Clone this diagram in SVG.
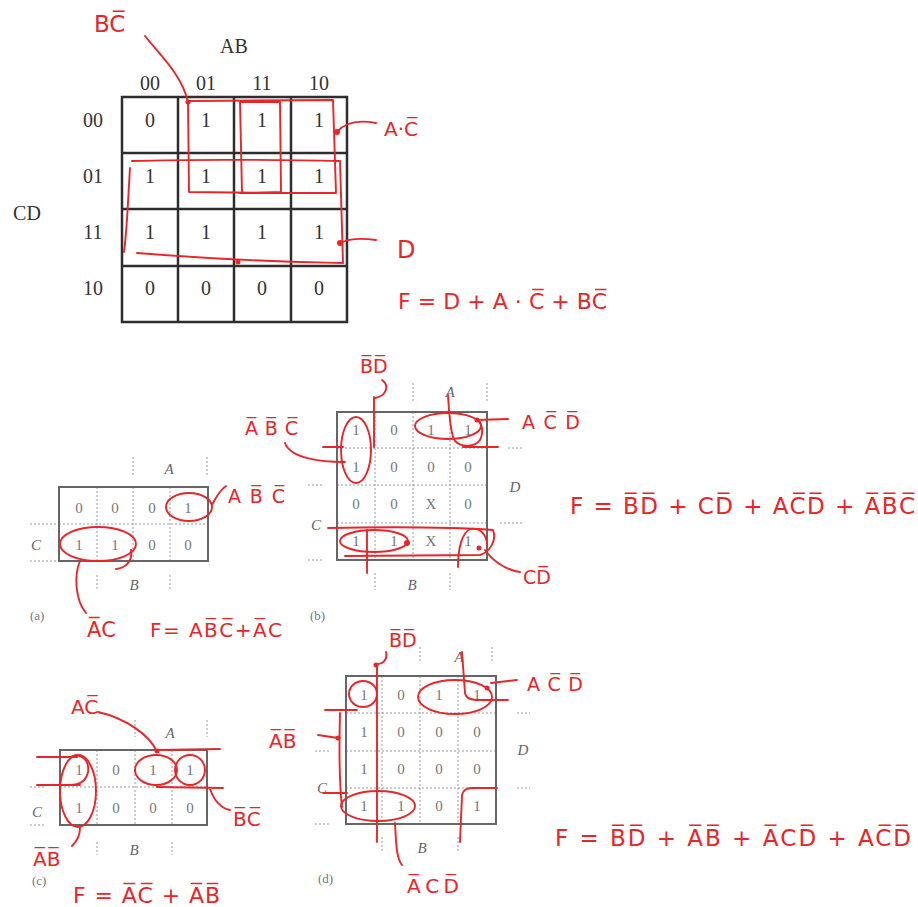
<svg xmlns="http://www.w3.org/2000/svg" width="918" height="907" viewBox="0 0 918 907">
<style>
.bg{fill:#ffffff}
.g1{fill:none;stroke:#2e2e2e;stroke-width:2.5}
.t1{font-family:"Liberation Serif",serif;font-size:20px;fill:#333;text-anchor:middle}
.box{fill:none;stroke:#666;stroke-width:2}
.dl{fill:none;stroke:#9a9a9a;stroke-width:1;stroke-dasharray:2,2}
.t2{font-family:"Liberation Serif",serif;font-size:15px;fill:#777;text-anchor:middle}
.lb{font-family:"Liberation Serif",serif;font-size:15px;fill:#666;font-style:italic;text-anchor:middle}
.cap{font-family:"Liberation Serif",serif;font-size:13px;fill:#777}
.r{fill:none;stroke:#e8262a;stroke-width:1.9;stroke-linecap:round;stroke-linejoin:round}
.rt{font-family:"DejaVu Sans",sans-serif;fill:#e8262a}
.dot{fill:#e8262a}
</style>
<rect class="bg" x="0" y="0" width="918" height="907"/>

<g id="map-main">
<path class="g1" d="M122,97H347V322H122Z M178,97V322 M234,97V322 M291,97V322 M122,153H347 M122,209H347 M122,266H347"/>
<text class="t1" x="234" y="53">AB</text>
<text class="t1" x="27" y="220">CD</text>
<text class="t1" x="150" y="90">00</text><text class="t1" x="206" y="90">01</text><text class="t1" x="262" y="90">11</text><text class="t1" x="319" y="90">10</text>
<text class="t1" x="93" y="127">00</text><text class="t1" x="93" y="183">01</text><text class="t1" x="93" y="239">11</text><text class="t1" x="93" y="295">10</text>
<text class="t1" x="150" y="127">0</text><text class="t1" x="206" y="127">1</text><text class="t1" x="262" y="127">1</text><text class="t1" x="319" y="127">1</text>
<text class="t1" x="150" y="183">1</text><text class="t1" x="206" y="183">1</text><text class="t1" x="262" y="183">1</text><text class="t1" x="319" y="183">1</text>
<text class="t1" x="150" y="239">1</text><text class="t1" x="206" y="239">1</text><text class="t1" x="262" y="239">1</text><text class="t1" x="319" y="239">1</text>
<text class="t1" x="150" y="295">0</text><text class="t1" x="206" y="295">0</text><text class="t1" x="262" y="295">0</text><text class="t1" x="319" y="295">0</text>
</g>

<g id="map-a">
<path class="dl" d="M97,487V561 M133,487V561 M170,487V561 M59,524H208 M30,524H59 M30,561H59 M133,457V477 M207,457V477 M97,575V590 M170,575V590"/>
<rect class="box" x="59" y="487" width="149" height="74"/>
<text class="lb" x="169" y="474">A</text><text class="lb" x="134" y="590">B</text><text class="lb" x="36" y="550">C</text>
<text class="cap" x="30" y="620">(a)</text>
<text class="t2" x="79" y="513">0</text><text class="t2" x="115" y="513">0</text><text class="t2" x="152" y="513">0</text><text class="t2" x="188" y="513">1</text>
<text class="t2" x="79" y="550">1</text><text class="t2" x="115" y="550">1</text><text class="t2" x="152" y="550">0</text><text class="t2" x="188" y="550">0</text>
</g>

<g id="map-b">
<path class="dl" d="M375,412V560 M413,412V560 M450,412V560 M337,448H487 M337,485H487 M337,523H487 M413,383V402 M487,383V402 M375,573V590 M450,573V590 M508,448H523 M500,523H523 M308,485H323 M308,560H323"/>
<rect class="box" x="337" y="412" width="150" height="148"/>
<text class="lb" x="450" y="397">A</text><text class="lb" x="412" y="590">B</text><text class="lb" x="515" y="492">D</text><text class="lb" x="316" y="530">C</text>
<text class="cap" x="310" y="620">(b)</text>
<text class="t2" x="356" y="435">1</text><text class="t2" x="394" y="435">0</text><text class="t2" x="431" y="435">1</text><text class="t2" x="468" y="435">1</text>
<text class="t2" x="356" y="472">1</text><text class="t2" x="394" y="472">0</text><text class="t2" x="431" y="472">0</text><text class="t2" x="468" y="472">0</text>
<text class="t2" x="356" y="509">0</text><text class="t2" x="394" y="509">0</text><text class="t2" x="431" y="509">X</text><text class="t2" x="468" y="509">0</text>
<text class="t2" x="356" y="546">1</text><text class="t2" x="394" y="546">1</text><text class="t2" x="431" y="546">X</text><text class="t2" x="468" y="546">1</text>
</g>

<g id="map-c">
<path class="dl" d="M97,750V825 M135,750V825 M172,750V825 M60,787H207 M30,787H45 M30,825H45 M135,720V737 M207,720V737 M97,842V855 M172,842V855"/>
<rect class="box" x="60" y="750" width="147" height="75"/>
<text class="lb" x="170" y="738">A</text><text class="lb" x="134" y="855">B</text><text class="lb" x="37" y="817">C</text>
<text class="cap" x="32" y="885">(c)</text>
<text class="t2" x="79" y="775">1</text><text class="t2" x="116" y="775">0</text><text class="t2" x="153" y="775">1</text><text class="t2" x="190" y="775">1</text>
<text class="t2" x="79" y="813">1</text><text class="t2" x="116" y="813">0</text><text class="t2" x="153" y="813">0</text><text class="t2" x="190" y="813">0</text>
</g>

<g id="map-d">
<path class="dl" d="M382,676V824 M420,676V824 M458,676V824 M346,713H496 M346,751H496 M346,788H496 M420,647V663 M492,647V663 M382,837V853 M458,837V853 M517,713H530 M517,788H530 M315,751H330 M315,824H330"/>
<rect class="box" x="346" y="676" width="150" height="148"/>
<text class="lb" x="459" y="662">A</text><text class="lb" x="422" y="853">B</text><text class="lb" x="523" y="755">D</text><text class="lb" x="322" y="793">C</text>
<text class="cap" x="318" y="883">(d)</text>
<text class="t2" x="364" y="700">1</text><text class="t2" x="401" y="700">0</text><text class="t2" x="439" y="700">1</text><text class="t2" x="477" y="700">1</text>
<text class="t2" x="364" y="737">1</text><text class="t2" x="401" y="737">0</text><text class="t2" x="439" y="737">0</text><text class="t2" x="477" y="737">0</text>
<text class="t2" x="364" y="774">1</text><text class="t2" x="401" y="774">0</text><text class="t2" x="439" y="774">0</text><text class="t2" x="477" y="774">0</text>
<text class="t2" x="364" y="811">1</text><text class="t2" x="401" y="811">1</text><text class="t2" x="439" y="811">0</text><text class="t2" x="477" y="811">1</text>
</g>

<g id="connectors">
<path class="r" d="M145,36 C160,55 182,75 188,102"/>
<path class="r" d="M188,101 L189,192 L281,193 M240,102 L280,102 L281,192 L242,193 Z"/>
<path class="r" d="M188,101 L333,100 L336,193 L240,193"/>
<path class="r" d="M132,161 C200,159 300,160 340,161 L343,263 C300,262 250,262 137,253 M130,168 C128,200 127,230 124,252"/>
<path class="r" d="M337,132 C345,122 360,120 376,123"/>
<path class="r" d="M340,243 C350,238 362,238 376,240"/>
<circle class="dot" cx="188" cy="102" r="2.5"/><circle class="dot" cx="337" cy="132" r="3"/><circle class="dot" cx="340" cy="243" r="3"/><circle class="dot" cx="238" cy="262" r="2.5"/>
<ellipse class="r" cx="189" cy="507" rx="23" ry="14"/>
<path class="r" d="M212,505 C216,497 220,490 226,486"/>
<ellipse class="r" cx="98" cy="544" rx="38" ry="17"/>
<path class="r" d="M131,550 C133,562 125,568 116,569"/>
<path class="r" d="M80,561 C74,575 75,600 86,613"/>
<path class="r" d="M382,380 C390,386 386,396 375,398 M374,397 L374,447"/>
<path class="r" d="M285,443 C290,458 320,462 345,462"/>
<ellipse class="r" cx="356" cy="450" rx="15" ry="33"/>
<path class="r" d="M323,447 L343,447"/>
<ellipse class="r" cx="448" cy="426" rx="33" ry="13"/>
<path class="r" d="M448,395 C449,410 450,435 455,441 C462,448 475,447 480,440 C484,432 482,422 477,420 L508,419"/>
<path class="r" d="M463,447 L498,447"/>
<ellipse class="r" cx="374" cy="541" rx="34" ry="11"/>
<path class="r" d="M328,528 C380,527 450,527 493,530 C497,540 490,552 480,555 L345,556"/>
<path class="r" d="M458,567 C458,548 462,533 470,529 C480,527 487,535 487,545 M485,550 C492,560 505,570 520,572"/>
<path class="r" d="M367,530 L367,573"/>
<circle class="dot" cx="477" cy="420" r="2.5"/><circle class="dot" cx="407" cy="543" r="3"/><circle class="dot" cx="479" cy="548" r="2.5"/>
<path class="r" d="M98,712 C125,718 150,735 157,752 M157,750 L220,749"/>
<path class="r" d="M37,757 L77,757 M37,785 L80,785"/>
<path class="r" d="M70,757 C80,752 90,760 88,772 C86,782 78,785 70,785"/>
<ellipse class="r" cx="78" cy="791" rx="18" ry="36"/>
<path class="r" d="M80,828 C80,836 76,842 72,846"/>
<ellipse class="r" cx="156" cy="770" rx="21" ry="15"/>
<circle class="r" cx="190" cy="770" r="15"/>
<path class="r" d="M157,787 L223,788 M210,789 C214,800 220,808 230,810"/>
<circle class="dot" cx="157" cy="751" r="2.5"/>
<path class="r" d="M386,652 C388,660 382,665 376,664 M377,665 L377,842"/>
<ellipse class="r" cx="363" cy="694" rx="14" ry="13"/>
<path class="r" d="M325,710 L357,710"/>
<path class="r" d="M318,735 L338,738 M340,713 C339,750 339,780 342,807 M323,793 L347,793"/>
<ellipse class="r" cx="378" cy="806" rx="37" ry="15"/>
<path class="r" d="M395,823 C396,840 396,858 402,865"/>
<ellipse class="r" cx="455" cy="697" rx="37" ry="17"/>
<path class="r" d="M491,683 L517,680"/>
<path class="r" d="M462,652 L465,693 C466,699 472,700 480,700 L508,700"/>
<path class="r" d="M460,842 L462,795 C463,790 466,788 472,788 L497,788"/>
<circle class="dot" cx="376" cy="665" r="2.5"/><circle class="dot" cx="338" cy="738" r="2.5"/><circle class="dot" cx="487" cy="688" r="2.5"/>
</g>

<g id="labels">
<text class="rt" x="94" y="32" font-size="23">BC̅</text>
<text class="rt" x="384" y="136" font-size="20">A·C̅</text>
<text class="rt" x="397" y="258" font-size="24">D</text>
<text class="rt" x="398" y="309" font-size="22" textLength="209" lengthAdjust="spacing">F = D + A · C̅ + BC̅</text>
<text class="rt" x="228" y="503" font-size="19" textLength="57" lengthAdjust="spacing">AB̅C̅</text>
<text class="rt" x="87" y="637" font-size="21">A̅C</text>
<text class="rt" x="150" y="637" font-size="20" textLength="132" lengthAdjust="spacing">F= AB̅C̅+A̅C</text>
<text class="rt" x="360" y="373" font-size="19">B̅D̅</text>
<text class="rt" x="245" y="435" font-size="19" textLength="53" lengthAdjust="spacing">A̅B̅C̅</text>
<text class="rt" x="522" y="429" font-size="19" textLength="58" lengthAdjust="spacing">AC̅D̅</text>
<text class="rt" x="523" y="584" font-size="19">CD̅</text>
<text class="rt" x="570" y="514" font-size="23" textLength="345" lengthAdjust="spacing">F = B̅D̅ + CD̅ + AC̅D̅ + A̅B̅C̅</text>
<text class="rt" x="71" y="714" font-size="20">AC̅</text>
<text class="rt" x="33" y="866" font-size="20">A̅B̅</text>
<text class="rt" x="233" y="826" font-size="20">B̅C̅</text>
<text class="rt" x="73" y="903" font-size="22" textLength="147" lengthAdjust="spacing">F = A̅C̅ + A̅B̅</text>
<text class="rt" x="389" y="647" font-size="19">B̅D̅</text>
<text class="rt" x="269" y="748" font-size="20">A̅B̅</text>
<text class="rt" x="407" y="893" font-size="20" textLength="52" lengthAdjust="spacing">A̅CD̅</text>
<text class="rt" x="527" y="691" font-size="19" textLength="56" lengthAdjust="spacing">AC̅D̅</text>
<text class="rt" x="555" y="846" font-size="23" textLength="356" lengthAdjust="spacing">F = B̅D̅ + A̅B̅ + A̅CD̅ + AC̅D̅</text>
</g>
</svg>
